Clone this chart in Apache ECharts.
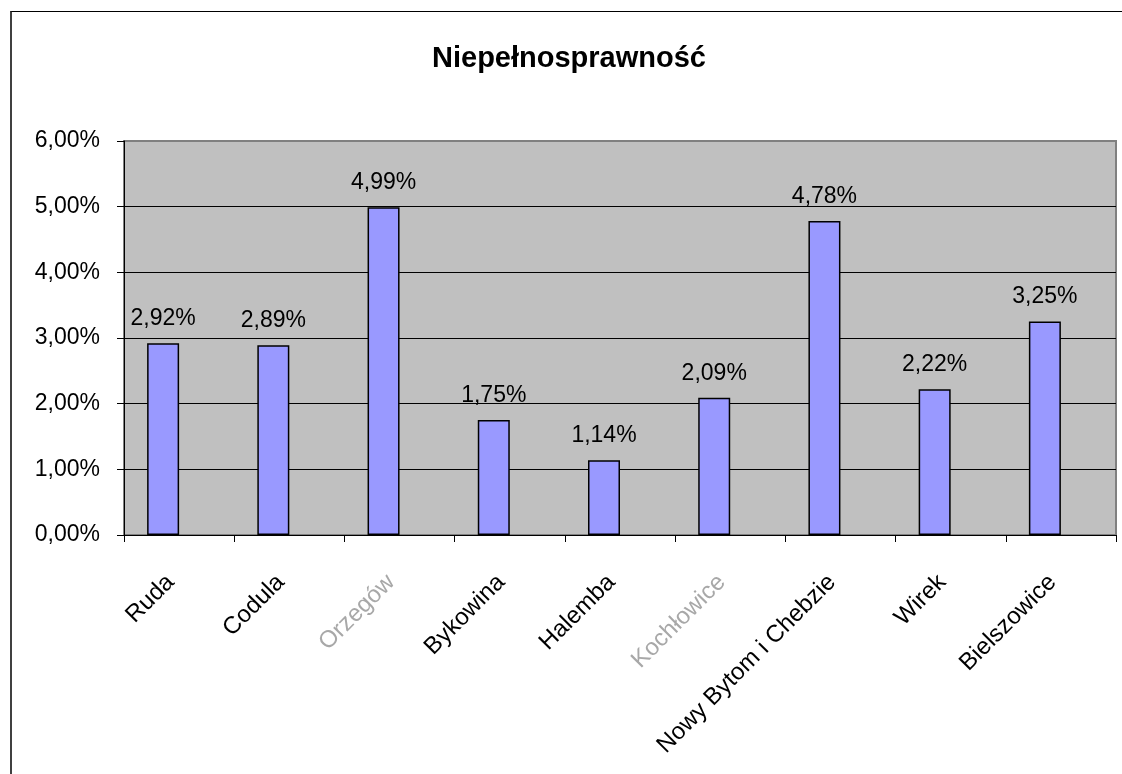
<!DOCTYPE html>
<html>
<head>
<meta charset="utf-8">
<script src="https://cdn.jsdelivr.net/npm/echarts@6/dist/echarts.min.js"></script>
<style>
  html, body { margin: 0; padding: 0; background: #fff; }
  #chart { position: absolute; left: 0; top: 0; width: 1122px; height: 774px; }
  #frame { position: absolute; left: 10px; top: 11px; width: 1120px; height: 770px;
           border-left: 2px solid #404040; border-top: 1px solid #000; pointer-events: none; }
</style>
</head>
<body>
<div id="chart"></div>
<div id="frame"></div>
<script>
const titleText = 'Niepełnosprawność';
const categories = ['Ruda', 'Codula', 'Orzegów', 'Bykowina', 'Halemba', 'Kochłowice', 'Nowy Bytom i Chebzie', 'Wirek', 'Bielszowice'];
const values = [2.92, 2.89, 4.99, 1.75, 1.14, 2.09, 4.78, 2.22, 3.25];
const fadedLabels = ['Orzegów', 'Kochłowice'];
const emptySeries = [];
const yMin = 0, yMax = 6, yStep = 1;

const fmt = v => v.toFixed(2).replace('.', ',') + '%';
const font = "'Liberation Sans', Arial, sans-serif";

const chart = echarts.init(document.getElementById('chart'), null, { renderer: 'canvas' });
chart.setOption({
  animation: false,
  backgroundColor: '#fff',
  title: {
    text: titleText,
    left: 432, top: 44, padding: 0,
    textStyle: { fontFamily: font, fontSize: 29, fontWeight: 'bold', color: '#000' }
  },
  grid: {
    left: 124, right: 6, top: 141, bottom: 239,
    show: true, backgroundColor: '#C0C0C0', borderColor: '#808080', borderWidth: 2
  },
  xAxis: {
    type: 'category',
    data: categories,
    boundaryGap: true,
    axisLine: { show: true, lineStyle: { color: '#000', width: 1 } },
    axisTick: { show: true, length: 7, lineStyle: { color: '#000' }, alignWithLabel: false },
    axisLabel: {
      rotate: 45, interval: 0, margin: 52,
      align: 'right', verticalAlign: 'bottom',
      fontFamily: font, fontSize: 24,
      color: (v) => fadedLabels.includes(v) ? '#a8a8a8' : '#000'
    }
  },
  yAxis: {
    type: 'value',
    min: yMin, max: yMax, interval: yStep,
    axisLine: { show: true, lineStyle: { color: '#000', width: 1 } },
    axisTick: { show: true, length: 7, lineStyle: { color: '#000' } },
    axisLabel: { margin: 24, fontFamily: font, fontSize: 23, color: '#000', formatter: v => fmt(v) },
    splitLine: { show: true, lineStyle: { color: ['#000', '#000', '#000', '#000', '#000', '#000', '#808080'], width: 1 } }
  },
  series: [
    {
      type: 'bar',
      data: values,
      barWidth: 32,
      barGap: '0%',
      itemStyle: { color: '#9999FF', borderColor: '#000', borderWidth: 1.5 },
      label: {
        show: true, position: 'top', distance: 13,
        fontFamily: font, fontSize: 23, color: '#000',
        formatter: p => fmt(p.value)
      }
    },
    {
      type: 'bar',
      data: emptySeries,
      barWidth: 32,
      barGap: '0%'
    }
  ]
});
</script>
</body>
</html>
